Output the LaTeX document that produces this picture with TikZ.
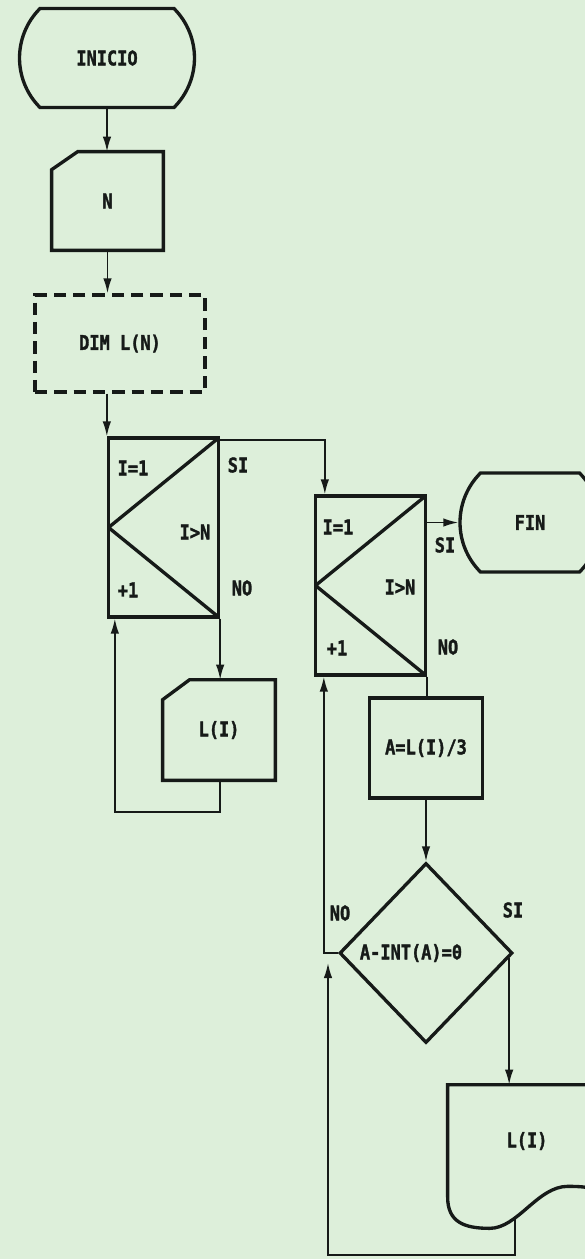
\documentclass[tikz,border=0pt]{standalone}
\usepackage{fontspec}
\setmainfont[FakeStretch=0.84,FakeBold=1.6]{DejaVu Sans Mono}
\usepackage{tikz}
\usetikzlibrary{arrows.meta,positioning,shapes.geometric,shapes.misc}
\definecolor{Ink}{HTML}{161A18}
\definecolor{Paper}{HTML}{DDEFDA}
\tikzset{
  plainbox/.style={inner sep=0pt,text=Ink,font=\bfseries\fontsize{11.5}{13}\selectfont},
  shp/.style={plainbox,draw=Ink,line width=1.9pt},
  shapeline/.style={draw=Ink,line width=1.9pt},
  terminal/.style={shp,rounded rectangle,rounded rectangle arc length=90,minimum width=#1,minimum height=1.98cm},
  dimbox/.style={shp,rectangle,dash pattern=on 7pt off 4pt,minimum width=3.4cm,minimum height=1.94cm},
  loopbox/.style={shp,rectangle,minimum width=2.2cm,minimum height=3.58cm,
    path picture={\draw[shapeline] (path picture bounding box.north east) -- (path picture bounding box.west) -- (path picture bounding box.south east);}},
  procbox/.style={shp,rectangle,minimum width=2.26cm,minimum height=2cm},
  decision/.style={shp,diamond,minimum width=3.46cm,minimum height=3.6cm},
  lbl/.style={plainbox},
  conn/.style={line width=1pt,draw=Ink},
  arrow/.style={-{Latex[length=3mm,width=1.7mm]},line width=1pt,draw=Ink}
}
\begin{document}
\begin{tikzpicture}[x=0.02cm,y=-0.02cm]
\clip (0,0) rectangle (585,1259);
\fill[Paper] (0,0) rectangle (585,1259);

% first loop: read the list
\node[terminal=3.5cm] (inicio) at (107,58) {INICIO};
\node[plainbox,minimum width=2.22cm,minimum height=1.96cm] (n) at (107.5,201) {N};
\draw[shapeline] ([xshift=0.52cm]n.north west) -- (n.north east) -- (n.south east) -- (n.south west) -- ([yshift=-0.36cm]n.north west) -- cycle;
\node[dimbox] (dim) at (120,343.5) {DIM L(N)};
\node[loopbox] (loop1) at (163.5,527.5) {};
\node[lbl] (l1init) at (133,468) {I=1};
\node[lbl] (l1test) at (195,532) {I>N};
\node[lbl] (l1step) at (128,590) {+1};
\node[lbl] (l1si) at (238,465) {SI};
\node[lbl] (l1no) at (242,588) {NO};
\node[plainbox,minimum width=2.24cm,minimum height=2cm] (out1) at (219,730) {L(I)};
\draw[shapeline] ([xshift=0.54cm]out1.north west) -- (out1.north east) -- (out1.south east) -- (out1.south west) -- ([yshift=-0.4cm]out1.north west) -- cycle;

% second loop: multiples of 3
\node[loopbox] (loop2) at (370.5,585.5) {};
\node[lbl] (l2init) at (338,527) {I=1};
\node[lbl] (l2test) at (400,587) {I>N};
\node[lbl] (l2step) at (337,648) {+1};
\node[lbl] (l2si) at (445,545) {SI};
\node[lbl] (l2no) at (448,647) {NO};
\node[terminal=2.5cm] (fin) at (530,522.5) {FIN};
\node[procbox] (calc) at (426,748) {A=L(I)/3};
\node[decision] (test) at (426,953) {A-INT(A)=0\makebox[0.6cm]{}};
\node[lbl] (tno) at (340,913) {NO};
\node[lbl] (tsi) at (513,910) {SI};
\node[plainbox,minimum width=3.16cm,minimum height=2.24cm] (out2) at (527,1141) {L(I)};
\draw[shapeline] (out2.south west) -- (out2.north west) -- (out2.north east) -- (out2.south east)
  .. controls +(-10,-8) and +(25,0) .. ([shift={(120,-11)}]out2.south west)
  .. controls +(-30,0) and +(28,0) .. ([shift={(42,31)}]out2.south west)
  .. controls +(-25,0) and +(0,25) .. (out2.south west);
\coordinate (back2) at (328,963);

% connectors
\draw[arrow] (inicio.south) -- (inicio.south |- n.north);
\draw[arrow] (n.south) -- (n.south |- dim.north);
\draw[arrow] (loop1.north west |- dim.south) -- (loop1.north west);
\draw[arrow] ([yshift=-0.08cm]loop1.north east) -| ([xshift=0.22cm]loop2.north west);
\draw[arrow] (loop1.south east) -- (loop1.south east |- out1.north);
\draw[arrow] (loop1.south east |- out1.south) -- ++(0,32) -| ([xshift=0.16cm]loop1.south west);
\draw[arrow] (loop2.east |- fin.west) -- (fin.west);
\draw[conn] (loop2.south east) -- (loop2.south east |- calc.north);
\draw[arrow] (calc.south) -- (test.north);
\draw[arrow] (test.west) -| ([xshift=0.2cm]loop2.south west);
\draw[arrow] ([xshift=-0.1cm,yshift=-0.1cm]test.east) -- ([xshift=-0.1cm]test.east |- out2.north);
\draw[arrow] ([shift={(67,22)}]out2.south west) -- ++(0,36) -| (back2);
\end{tikzpicture}
\end{document}
